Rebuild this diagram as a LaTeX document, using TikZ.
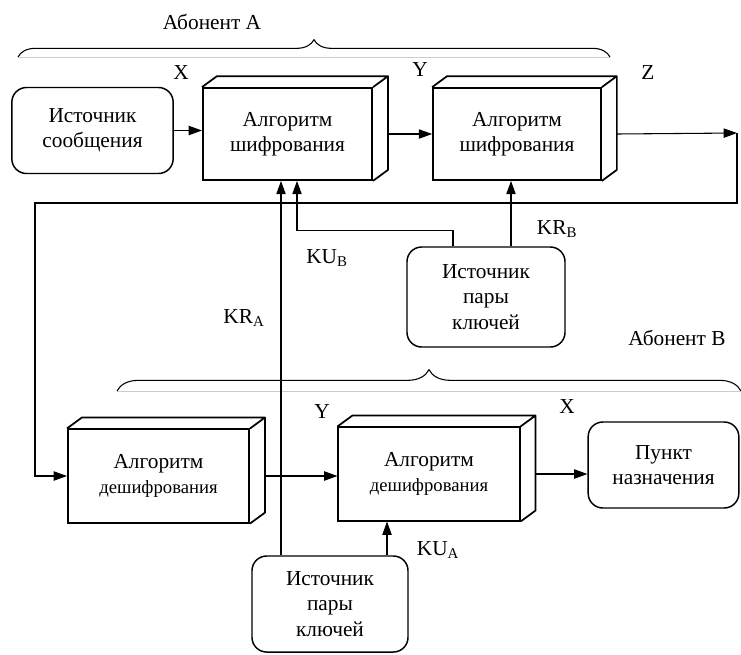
\documentclass[tikz,border=0pt]{standalone}
\usepackage{fontspec}
\setmainfont{Liberation Serif}
\usetikzlibrary{arrows.meta,decorations.pathreplacing}

\tikzset{
  cube/.style={draw, line width=1.3pt, align=center, inner sep=0pt},
  srcbox/.style={draw, line width=1.1pt, rounded corners=11pt, align=center, inner sep=0pt},
  conn/.style={line width=0.8pt},
  arr/.style={conn, -{Triangle[length=10pt,width=7pt]}},
  bracket/.style={decorate, decoration={brace, amplitude=#1}, line width=0.8pt},
  bracket/.default=13pt
}
\newcommand{\smallline}[1]{{\fontsize{14}{17}\selectfont #1}}

\begin{document}
\begin{tikzpicture}[x=0.75pt, y=-0.75pt, font=\fontsize{16}{19}\selectfont]
\useasboundingbox (0,0) rectangle (741,654);

% subscriber A
\draw[gray!40, line width=0.5pt] (18,57) -- (610,57);
\draw[bracket] (18,57) -- (610,57);
\node (abA) at (212,22) {Абонент А};

\node[srcbox, minimum width=121pt, minimum height=64.5pt] (src) at (92.5,130.5) {Источник\\сообщения};
\node[cube, minimum width=127pt, minimum height=69pt] (enc1) at (287.5,134) {Алгоритм\\шифрования};
\node[cube, minimum width=126pt, minimum height=69pt] (enc2) at (517,134) {Алгоритм\\шифрования};
\node[srcbox, minimum width=118.5pt, minimum height=75pt] (keyB) at (486,297) {Источник\\пары\\ключей};

% subscriber B
\draw[gray!40, line width=0.5pt] (117,391) -- (741,391);
\draw[bracket=16pt] (117,391) -- (741,391);
\node (abB) at (677,338) {Абонент В};

\node[cube, minimum width=136pt, minimum height=70pt] (dec1) at (158.5,476) {Алгоритм\\\smallline{дешифрования}};
\node[cube, minimum width=136pt, minimum height=70pt] (dec2) at (429,474) {Алгоритм\\\smallline{дешифрования}};
\node[srcbox, minimum width=113pt, minimum height=64.5pt] (dst) at (663.5,465) {Пункт\\назначения};
\node[srcbox, minimum width=117pt, minimum height=72pt] (keyA) at (330,604) {Источник\\пары\\ключей};

% depth of the boxes
\foreach \b in {enc1,enc2,dec1,dec2}
  \draw[line width=1.3pt, line join=round] (\b.north west) -- ++(15,-11)
    -- ([shift={(15,-11)}]\b.north east) -- ([shift={(15,-11)}]\b.south east)
    -- (\b.south east) (\b.north east) -- ++(15,-11);

% data flow
\coordinate (zout) at (737,133);
\coordinate (zdown) at (737,203);
\coordinate (ret) at (35,203);
\draw[arr] (src.east) -- (src.east -| enc1.west);
\draw[arr] ([shift={(15,0)}]enc1.east) -- (enc2.west);
\draw[arr] ([shift={(15,0)}]enc2.east) -- (zout);
\draw[arr] (zout) -- (zdown) -- (ret) |- (dec1.west);
\draw[arr] ([shift={(15,0)}]dec1.east) -- (dec1.east -| dec2.west);
\draw[arr] ([shift={(15,0)}]dec2.east) -- (dec2.east -| dst.west);

% keys
\draw[arr] ([shift={(25,0)}]keyB.north) -- ([shift={(25,0)}]keyB.north |- enc2.south);
\draw[arr] ([shift={(-33,0)}]keyB.north) -- ++(0,-16) -| ([shift={(9.5,0)}]enc1.south);
\draw[arr] ([shift={(-49,0)}]keyA.north) -- ([shift={(-49,0)}]keyA.north |- enc1.south);
\draw[arr] ([shift={(57,0)}]keyA.north) -- ([shift={(57,0)}]keyA.north |- dec2.south);

% labels
\node (lX1) at (181,73) {X};
\node (lY1) at (420,70) {Y};
\node (lZ) at (648,73) {Z};
\node (lY2) at (322,412) {Y};
\node (lX2) at (567,407) {X};
\node (lKUB) at (327,258) {KU\textsubscript{B}};
\node (lKRB) at (557,229) {KR\textsubscript{B}};
\node (lKRA) at (244,318) {KR\textsubscript{A}};
\node (lKUA) at (438,550) {KU\textsubscript{A}};
\end{tikzpicture}
\end{document}
